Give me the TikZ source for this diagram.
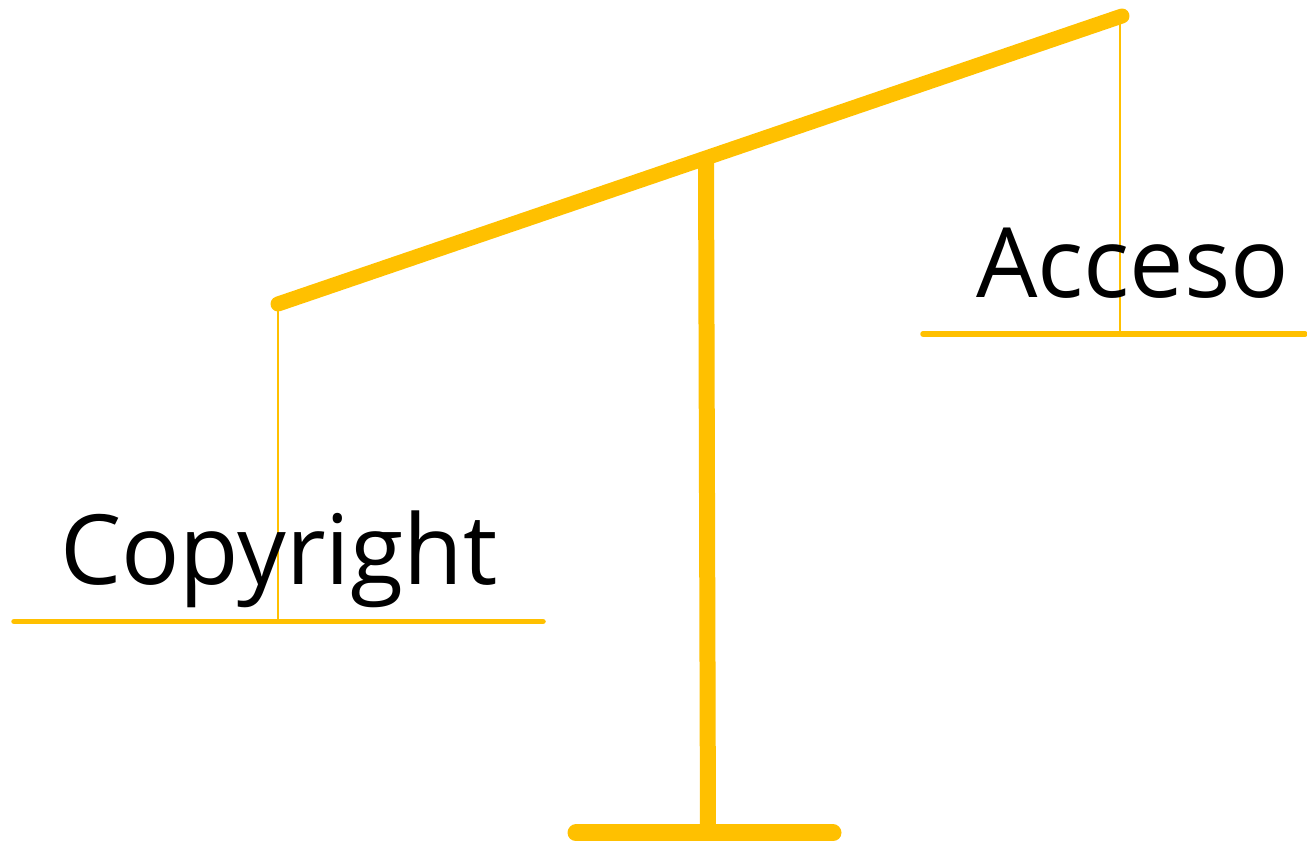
\documentclass[tikz,border=0pt]{standalone}
\usepackage{fontspec}
\setmainfont{Open Sans}
\usepackage{xcolor}
\definecolor{gold}{HTML}{FFC000}
\tikzset{
  beam/.style={draw=gold, line width=15pt, line cap=round},
  post/.style={draw=gold, line width=16pt},
  foot/.style={draw=gold, line width=17pt, line cap=round},
  pan/.style={draw=gold, line width=5.5pt, line cap=round},
  cord/.style={draw=gold, line width=2.5pt},
  word/.style={font=\fontsize{97}{105}\selectfont, text=black, inner sep=0pt, anchor=base west}
}

\begin{document}
\begin{tikzpicture}[x=1pt,y=1pt]
\useasboundingbox (0,0) rectangle (1307,842);

% beam and stand
\coordinate (armL) at (278,538);
\coordinate (armR) at (1122,826);
\coordinate (top) at (706,684);
\coordinate (bot) at (708,9);
\draw[beam] (armL) -- (armR);
\draw[post] (top) -- (bot);
\coordinate (footL) at (576,9);
\coordinate (footR) at (833,9);
\draw[foot] (footL) -- (footR);

% left pan
\coordinate (hangL) at (278,220.5);
\draw[cord] (armL) -- (hangL);
\coordinate (panLa) at (14,220.5);
\coordinate (panLb) at (543,220.5);
\draw[pan] (panLa) -- (panLb);
\node[word] (copy) at (60,257) {Copyright};

% right pan
\coordinate (armR2) at (1120,826);
\coordinate (hangR) at (1120,508);
\draw[cord] (armR2) -- (hangR);
\coordinate (panRa) at (923,508);
\coordinate (panRb) at (1305,508);
\draw[pan] (panRa) -- (panRb);
\node[word] (acc) at (976,544) {Acceso};

\end{tikzpicture}
\end{document}
